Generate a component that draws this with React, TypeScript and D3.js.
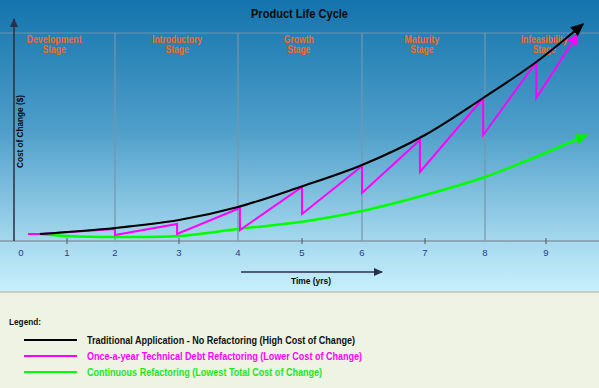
import React from "react";
import * as d3 from "d3";

// ---- data ----
const yearTicks = [0, 1, 2, 3, 4, 5, 6, 7, 8, 9];
const tickLabels = ["0", "1", "2", "3", "4", "5", "6", "7", "8", "9"];
const stageNames = [
  ["Development", "Stage"],
  ["Introductory", "Stage"],
  ["Growth", "Stage"],
  ["Maturity", "Stage"],
  ["Infeasibility", "Stage"],
];
const stageCenters = [0.72, 2.97, 4.95, 6.95, 8.97];
const stageDividers = [2, 4, 6, 8];
const tickMarkYears = [1, 3, 5, 7, 9];

// [time (yrs), cost]
const traditional: [number, number][] = [
  [0.41, 3.5], [2, 6.5], [3, 10.5], [4, 17], [4.97, 27], [6, 38],
  [7, 53], [7.97, 71.5], [8.84, 89.5], [9.61, 108.5],
];
const onceAYear: [number, number][] = [
  [0.15, 3.5], [0.41, 3.5], [2, 6], [2, 3], [2.97, 8.5], [2.97, 3.5],
  [4.03, 16.5], [4.03, 5.5], [5, 27], [5, 13.5], [6, 37.5], [6, 24],
  [6.92, 50.5], [6.92, 34.5], [7.97, 71.5], [7.97, 53], [8.84, 89.5],
  [8.84, 71.5], [9.52, 103.5],
];
const continuous: [number, number][] = [
  [0.41, 3.5], [1, 2.5], [2, 2], [3, 2.5], [4, 6], [4.97, 9.5], [6, 15],
  [7, 23], [8, 32], [8.79, 41.5], [9.67, 53],
];

const legendItems = [
  { label: "Traditional Application - No Refactoring (High Cost of Change)", color: "#000000", text: "#111111" },
  { label: "Once-a-year Technical Debt Refactoring (Lower Cost of Change)", color: "#ff00ff", text: "#ff00ff" },
  { label: "Continuous Refactoring (Lowest Total Cost of Change)", color: "#00ff00", text: "#1ee61e" },
];

// ---- layout ----
const W = 599;
const H = 388;
const axisY = 241;
const topLineY = 33;
const legendTop = 292;
const tickX = [21, 67, 115, 179, 238, 302, 362, 425, 485, 546];
const stageWidths = [55, 50, 30, 35, 47];
const stageWordWidth = 23;
const legendWidths = [268, 275, 235];

const FONT = "'Liberation Sans', Arial, sans-serif";

export default function App() {
  const x = d3.scaleLinear().domain(yearTicks).range(tickX);
  const y = d3.scaleLinear().domain([0, 110]).range([axisY, 21]);

  const smooth = d3
    .line<[number, number]>()
    .x((d) => x(d[0]))
    .y((d) => y(d[1]))
    .curve(d3.curveCatmullRom.alpha(0.5));
  const straight = d3
    .line<[number, number]>()
    .x((d) => x(d[0]))
    .y((d) => y(d[1]));

  const arrow = (id: string, color: string, len = 12, half = 5) => (
    <marker
      id={id}
      markerUnits="userSpaceOnUse"
      markerWidth={len + 2}
      markerHeight={half * 2 + 2}
      viewBox={`0 ${-half - 1} ${len + 2} ${half * 2 + 2}`}
      refX={len - 1}
      refY={0}
      orient="auto"
    >
      <path d={`M0,${-half}L${len},0L0,${half}Z`} fill={color} />
    </marker>
  );

  return (
    <svg
      width={W}
      height={H}
      style={{ position: "fixed", left: 0, top: 0, display: "block" }}
      fontFamily={FONT}
    >
      <defs>
        <linearGradient id="bg" x1="0" y1="0" x2="0" y2="1">
          <stop offset="0" stopColor="#1474ad" />
          <stop offset="0.45" stopColor="#4f9fca" />
          <stop offset="0.83" stopColor="#a6d9ee" />
          <stop offset="1" stopColor="#c8f0fc" />
        </linearGradient>
        {arrow("arrBlack", "#000000", 13, 6)}
        {arrow("arrMag", "#ff00ff", 12, 5.5)}
        {arrow("arrGreen", "#00ee00", 12, 5.5)}
        {arrow("arrAxis", "#2a2f4a", 9, 4)}
      </defs>

      <rect x={0} y={0} width={W} height={legendTop} fill="url(#bg)" />
      <rect x={0} y={legendTop} width={W} height={H - legendTop} fill="#eef3e3" />
      <line x1={0} x2={W} y1={legendTop} y2={legendTop} stroke="#c6cec6" strokeWidth={2} />

      {/* title */}
      <text
        x={299.5}
        y={17.5}
        textAnchor="middle"
        fontWeight="bold"
        fontSize={13}
        fill="#0a0a0a"
        textLength={97}
        lengthAdjust="spacingAndGlyphs"
      >
        Product Life Cycle
      </text>

      {/* top line + stage dividers */}
      <line x1={0} x2={W} y1={topLineY} y2={topLineY} stroke="#6f95ad" strokeWidth={1} />
      {stageDividers.map((t) => (
        <line key={t} x1={x(t)} x2={x(t)} y1={topLineY} y2={axisY} stroke="#7895a8" strokeWidth={1.2} />
      ))}

      {/* stage labels */}
      {stageNames.map((lines, i) => (
        <g key={i}>
          <text
            x={x(stageCenters[i])}
            y={43}
            textAnchor="middle"
            fontWeight="bold"
            fontSize={10}
            fill="#f26a24"
            textLength={stageWidths[i]}
            lengthAdjust="spacingAndGlyphs"
          >
            {lines[0]}
          </text>
          <text
            x={x(stageCenters[i])}
            y={52.5}
            textAnchor="middle"
            fontWeight="bold"
            fontSize={10}
            fill="#f26a24"
            textLength={stageWordWidth}
            lengthAdjust="spacingAndGlyphs"
          >
            {lines[1]}
          </text>
        </g>
      ))}

      {/* x axis */}
      <line x1={0} x2={W} y1={axisY} y2={axisY} stroke="#8497a4" strokeWidth={1.5} />
      {tickMarkYears.map((t) => (
        <line key={t} x1={x(t)} x2={x(t)} y1={axisY - 3} y2={axisY + 3} stroke="#4a5866" strokeWidth={1} />
      ))}
      {yearTicks.map((t, i) => (
        <text key={t} x={x(t)} y={255.5} textAnchor="middle" fontSize={9.5} fill="#283d8c">
          {tickLabels[i]}
        </text>
      ))}

      {/* y axis */}
      <line x1={14} x2={14} y1={axisY} y2={19} stroke="#243240" strokeWidth={1.5} markerEnd="url(#arrAxis)" />
      <text
        transform={`translate(23,131.5) rotate(-90)`}
        textAnchor="middle"
        fontWeight="bold"
        fontSize={9.5}
        fill="#0a0a0a"
        textLength={73}
        lengthAdjust="spacingAndGlyphs"
      >
        Cost of Change ($)
      </text>

      {/* time arrow */}
      <line x1={241} x2={382} y1={272} y2={272} stroke="#2a2f4a" strokeWidth={1.5} markerEnd="url(#arrAxis)" />
      <text
        x={311}
        y={283.5}
        textAnchor="middle"
        fontWeight="bold"
        fontSize={9.5}
        fill="#0a0a0a"
        textLength={40}
        lengthAdjust="spacingAndGlyphs"
      >
        Time (yrs)
      </text>

      {/* series */}
      <path d={smooth(continuous) || ""} fill="none" stroke="#00ff00" strokeWidth={2.5} markerEnd="url(#arrGreen)" />
      <path d={straight(onceAYear) || ""} fill="none" stroke="#ff00ff" strokeWidth={2} strokeLinejoin="miter" markerEnd="url(#arrMag)" />
      <path d={smooth(traditional) || ""} fill="none" stroke="#000000" strokeWidth={2} markerEnd="url(#arrBlack)" />

      {/* legend */}
      <text x={9} y={325} fontWeight="bold" fontSize={9.5} fill="#111" textLength={32} lengthAdjust="spacingAndGlyphs">
        Legend:
      </text>
      {legendItems.map((item, i) => (
        <g key={i}>
          <line x1={24} x2={77} y1={340 + i * 16} y2={340 + i * 16} stroke={item.color} strokeWidth={2} />
          <text
            x={87}
            y={344 + i * 16}
            fontWeight="bold"
            fontSize={10.5}
            fill={item.text}
            textLength={legendWidths[i]}
            lengthAdjust="spacingAndGlyphs"
          >
            {item.label}
          </text>
        </g>
      ))}
    </svg>
  );
}
